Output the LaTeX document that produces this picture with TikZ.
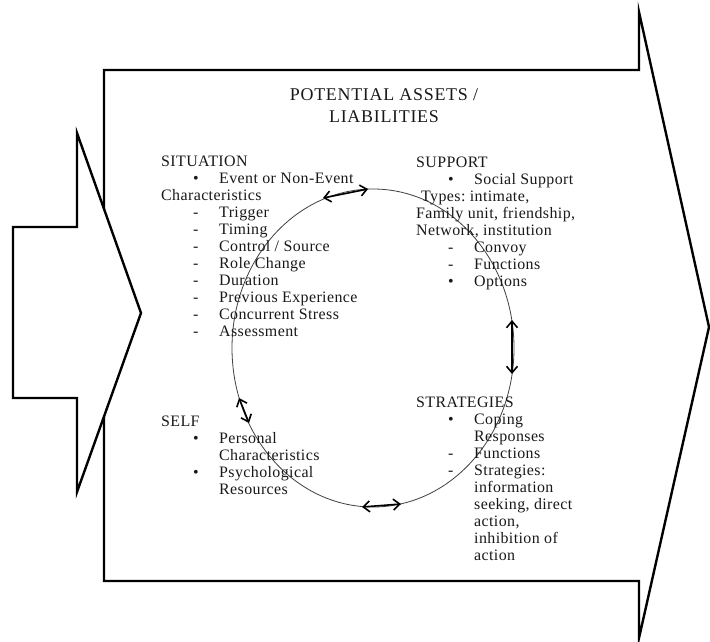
\documentclass[tikz,border=0pt]{standalone}
\usepackage{fontspec}
\setmainfont{Liberation Serif}[LetterSpace=2.5]
\usetikzlibrary{positioning,arrows.meta}
\frenchspacing
\tikzset{
  blkarrow/.style={draw=black,line width=2.4bp,line join=miter,fill=white},
  ringln/.style={line width=0.8bp,black!75},
  dbl/.style={{Straight Barb[length=6.5bp,width=11bp]}-{Straight Barb[length=6.5bp,width=11bp]},line width=1.6bp},
  txtblk/.style={anchor=base west,align=left,inner sep=0pt,text=black!90,
    font=\fontsize{16}{17}\selectfont},
  ttl/.style={align=center,inner sep=0pt,text=black!90,
    font=\fontsize{18}{22}\selectfont\addfontfeatures{LetterSpace=4}},
}
% indented list line: symbol, then text
\newcommand{\lstln}[2]{\hspace*{32bp}\makebox[26bp][l]{#1}#2}

\begin{document}
\begin{tikzpicture}[x=1bp,y=-1bp]
  \useasboundingbox (0,0) rectangle (710,642);
  % big arrow
  \draw[blkarrow] (104,70) -- (639,70) -- (639,12) -- (709,327) -- (639,638)
    -- (639,581) -- (104,581) -- cycle;
  % small incoming arrow
  \draw[blkarrow] (13,227) -- (77,227) -- (77,133) -- (141,313) -- (77,492)
    -- (77,398) -- (13,398) -- cycle;
  % cycle ring
  \draw[ringln] (373,348) ellipse [x radius=141, y radius=159];
  \node[ttl] (title) at (384,106) {POTENTIAL ASSETS /\\LIABILITIES};
  % four blocks (anchored on last line)
  \node[txtblk] (situation) at (161,336) {SITUATION\\
    \lstln{\textbullet}{Event or Non-Event}\\
    Characteristics\\
    \lstln{-}{Trigger}\\
    \lstln{-}{Timing}\\
    \lstln{-}{Control / Source}\\
    \lstln{-}{Role Change}\\
    \lstln{-}{Duration}\\
    \lstln{-}{Previous Experience}\\
    \lstln{-}{Concurrent Stress}\\
    \lstln{-}{Assessment}};
  \node[txtblk] (support) at (416,286) {SUPPORT\\
    \lstln{\textbullet}{Social Support}\\
    \hspace*{5bp}Types: intimate,\\
    Family unit, friendship,\\
    Network, institution\\
    \lstln{-}{Convoy}\\
    \lstln{-}{Functions}\\
    \lstln{\textbullet}{Options}};
  \node[txtblk] (strategies) at (416,560) {STRATEGIES\\
    \lstln{\textbullet}{Coping}\\
    \lstln{}{Responses}\\
    \lstln{-}{Functions}\\
    \lstln{-}{Strategies:}\\
    \lstln{}{information}\\
    \lstln{}{seeking, direct}\\
    \lstln{}{action,}\\
    \lstln{}{inhibition of}\\
    \lstln{}{action}};
  \node[txtblk] (self) at (161,494) {SELF\\
    \lstln{\textbullet}{Personal}\\
    \lstln{}{Characteristics}\\
    \lstln{\textbullet}{Psychological}\\
    \lstln{}{Resources}};
  % two-way arrows on the ring
  \coordinate (topL) at (323,198);  \coordinate (topR) at (368,189);
  \coordinate (rgtT) at (512,320);  \coordinate (rgtB) at (512,374);
  \coordinate (botL) at (362,507);  \coordinate (botR) at (401,504);
  \coordinate (lftT) at (239,398);  \coordinate (lftB) at (249,423);
  \draw[dbl] (topL) -- (topR);
  \draw[dbl] (rgtT) -- (rgtB);
  \draw[dbl] (botL) -- (botR);
  \draw[dbl] (lftT) -- (lftB);
\end{tikzpicture}
\end{document}
